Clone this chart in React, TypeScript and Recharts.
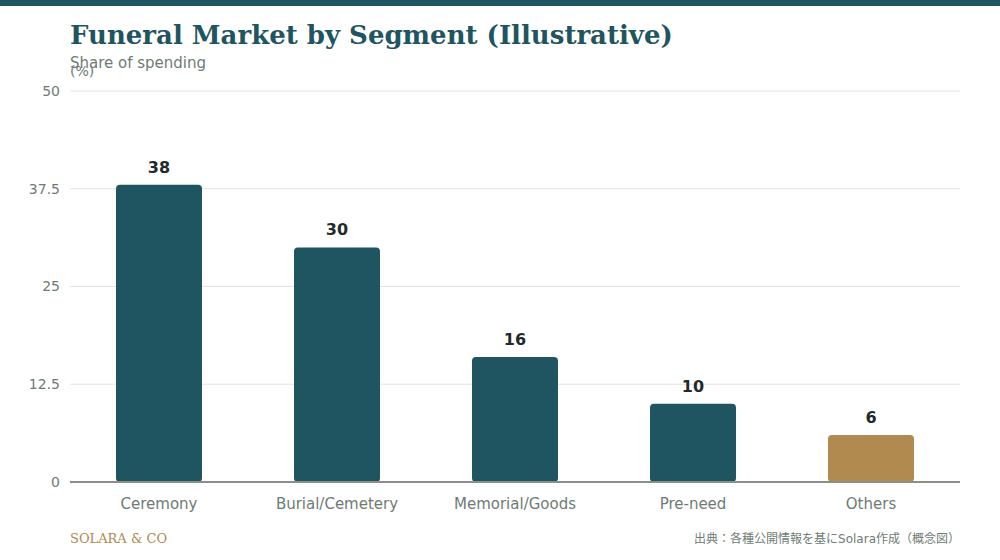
import { BarChart, Bar, XAxis, YAxis, CartesianGrid, LabelList, Cell } from 'recharts';

const categories = ['Ceremony', 'Burial/Cemetery', 'Memorial/Goods', 'Pre-need', 'Others'];
const shares = [38, 30, 16, 10, 6];
const yTicks = [0, 12.5, 25, 37.5, 50];

const TEAL = '#1f5560';
const GOLD = '#b08a4e';
const GREY = '#6e7b74';

const data = categories.map((name, i) => ({ name, share: shares[i] }));

const App = () => {
  return (
    <div style={{ position: 'absolute', left: 0, top: 0, width: 1000, height: 560, background: '#fff', overflow: 'hidden' }}>
      <div style={{ position: 'absolute', left: 0, top: 0, width: 1000, height: 6, background: TEAL }} />
      <div
        style={{
          position: 'absolute',
          left: 70,
          top: 20,
          fontFamily: '"DejaVu Serif", serif',
          fontWeight: 700,
          fontSize: 26,
          color: TEAL,
          whiteSpace: 'nowrap',
        }}
      >
        Funeral Market by Segment (Illustrative)
      </div>
      <div style={{ position: 'absolute', left: 70, top: 54, fontFamily: '"DejaVu Sans", sans-serif', fontSize: 15, color: GREY }}>
        Share of spending
      </div>
      <div style={{ position: 'absolute', left: 70, top: 63, fontFamily: '"DejaVu Sans", sans-serif', fontSize: 14, color: GREY }}>
        (%)
      </div>
      <BarChart
        width={1000}
        height={560}
        data={data}
        margin={{ top: 91, right: 40, left: 10, bottom: 48 }}
        barSize={86}
      >
        <CartesianGrid stroke="#e8e3db" strokeWidth={1} vertical={false} />
        <XAxis
          dataKey="name"
          tickLine={false}
          axisLine={{ stroke: '#8a9088', strokeWidth: 2 }}
          tickMargin={10}
          interval={0}
          tick={{ fill: GREY, fontFamily: '"DejaVu Sans", sans-serif', fontSize: 15 }}
        />
        <YAxis
          domain={[0, 50]}
          ticks={yTicks}
          width={60}
          tickLine={false}
          axisLine={false}
          tickMargin={4}
          tick={{ fill: GREY, fontFamily: '"DejaVu Sans", sans-serif', fontSize: 14 }}
        />
        <Bar dataKey="share" radius={[4, 4, 4, 4]} isAnimationActive={false}>
          {data.map((d, i) => (
            <Cell key={d.name} fill={i === data.length - 1 ? GOLD : TEAL} />
          ))}
          <LabelList
            dataKey="share"
            position="top"
            offset={12}
            fill="#1f2a2a"
            fontFamily='"DejaVu Sans", sans-serif'
            fontWeight={700}
            fontSize={16}
          />
        </Bar>
      </BarChart>
      <div
        style={{
          position: 'absolute',
          left: 70,
          top: 531,
          fontFamily: '"DejaVu Serif", serif',
          fontSize: 13,
          color: GOLD,
        }}
      >
        SOLARA &amp; CO
      </div>
      <div
        style={{
          position: 'absolute',
          right: 40,
          top: 529,
          fontFamily: '"DejaVu Sans", "Noto Sans CJK JP", sans-serif',
          fontSize: 12,
          color: GREY,
          whiteSpace: 'nowrap',
        }}
      >
        出典：各種公開情報を基にSolara作成（概念図）
      </div>
    </div>
  );
};

export default App;
